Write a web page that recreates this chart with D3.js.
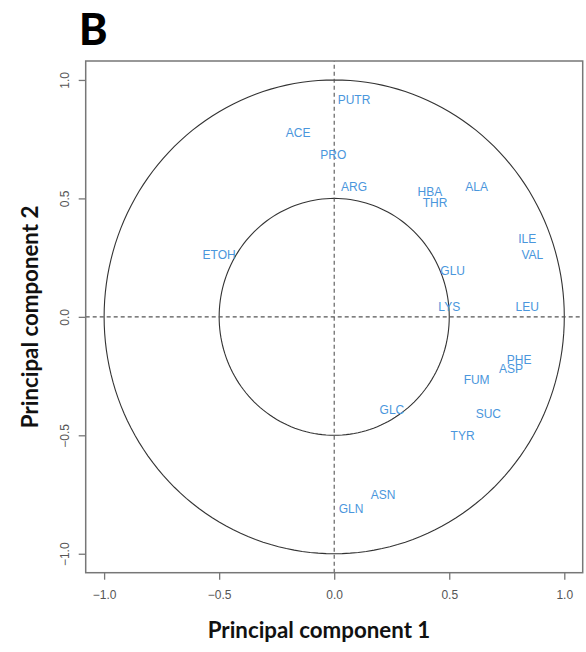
<!DOCTYPE html>
<html><head><meta charset="utf-8">
<script src="https://cdn.jsdelivr.net/npm/d3@7"></script>
<style>body{margin:0;background:#fff}svg{display:block}</style>
</head><body>
<script>
const labels = ["PUTR","ACE","PRO","ARG","ETOH","HBA","THR","ALA","ILE","VAL","GLU","LYS","LEU","PHE","ASP","FUM","SUC","TYR","GLC","ASN","GLN"];
const pc1 = [0.086,-0.157,-0.004,0.086,-0.5,0.416,0.438,0.619,0.839,0.861,0.515,0.5,0.839,0.804,0.768,0.619,0.67,0.558,0.251,0.213,0.073];
const pc2 = [0.915,0.779,0.683,0.549,0.261,0.526,0.482,0.549,0.331,0.261,0.194,0.041,0.041,-0.18,-0.218,-0.265,-0.411,-0.504,-0.394,-0.75,-0.81];
const ticks = [-1.0,-0.5,0.0,0.5,1.0];
const radii = [1.0,0.5];

const W=586,H=652;
const svg=d3.select("body").append("svg").attr("width",W).attr("height",H);
const x=d3.scaleLinear().domain([-1.08,1.08]).range([85.7,582.7]);
const y=d3.scaleLinear().domain([-1.08,1.08]).range([572.7,61]);

// circles
const circ=d3.range(0,361,2).map(a=>a*Math.PI/180);
radii.forEach(r=>{
  svg.append("path").attr("d",d3.line().x(t=>x(r*Math.cos(t))).y(t=>y(r*Math.sin(t)))(circ))
    .attr("fill","none").attr("stroke","#333").attr("stroke-width",1.1);
});
// dashed axes
svg.append("line").attr("x1",x(-1.08)).attr("x2",x(1.08)).attr("y1",y(0)).attr("y2",y(0))
  .attr("stroke","#555").attr("stroke-width",1.1).attr("stroke-dasharray","4,3");
svg.append("line").attr("y1",y(-1.08)).attr("y2",y(1.08)).attr("x1",x(0)).attr("x2",x(0))
  .attr("stroke","#555").attr("stroke-width",1.1).attr("stroke-dasharray","4,3");

// box
svg.append("rect").attr("x",x(-1.08)).attr("y",y(1.08)).attr("width",x(1.08)-x(-1.08)).attr("height",y(-1.08)-y(1.08))
  .attr("fill","none").attr("stroke","#777").attr("stroke-width",1.5);

// axes
const fmt=d3.format(".1f");
const xa=svg.append("g").attr("transform",`translate(0,${y(-1.08)})`)
  .call(d3.axisBottom(x).tickValues(ticks).tickFormat(fmt).tickSize(7).tickPadding(11));
const ya=svg.append("g").attr("transform",`translate(${x(-1.08)},0)`)
  .call(d3.axisLeft(y).tickValues(ticks).tickFormat(fmt).tickSize(7).tickPadding(9));
[xa,ya].forEach(g=>{
  g.select(".domain").remove();
  g.selectAll("line").attr("stroke","#777").attr("stroke-width",1.3);
  g.selectAll("text").attr("fill","#555").style("font-family","Liberation Sans, Arial, sans-serif").style("font-size","12px");
});
ya.selectAll("text").attr("text-anchor","middle").attr("dy",null)
  .attr("transform",function(){return `translate(-21,0) rotate(-90)`;}).attr("x",0).attr("y",4);

// variable labels
svg.append("g").selectAll("text").data(labels).join("text")
  .attr("x",(d,i)=>x(pc1[i])).attr("y",(d,i)=>y(pc2[i])).attr("dy","0.35em")
  .attr("text-anchor","middle").attr("fill","#4a96dc")
  .style("font-family","Liberation Sans, Arial, sans-serif").style("font-size","12px")
  .text(d=>d);

// titles
svg.append("text").attr("x",319).attr("y",638).attr("text-anchor","middle")
  .style("font-family","Lato, sans-serif").style("font-weight","bold").style("font-size","22.3px").attr("fill","#111")
  .text("Principal component 1");
svg.append("text").attr("transform",`translate(38,${y(0)}) rotate(-90)`).attr("text-anchor","middle")
  .style("font-family","Lato, sans-serif").style("font-weight","bold").style("font-size","22.3px").attr("fill","#111")
  .text("Principal component 2");
svg.append("text").attr("x",79).attr("y",45)
  .style("font-family","Lato, sans-serif").style("font-weight","900").style("font-size","43px").attr("fill","#000")
  .text("B");
</script>
</body></html>
